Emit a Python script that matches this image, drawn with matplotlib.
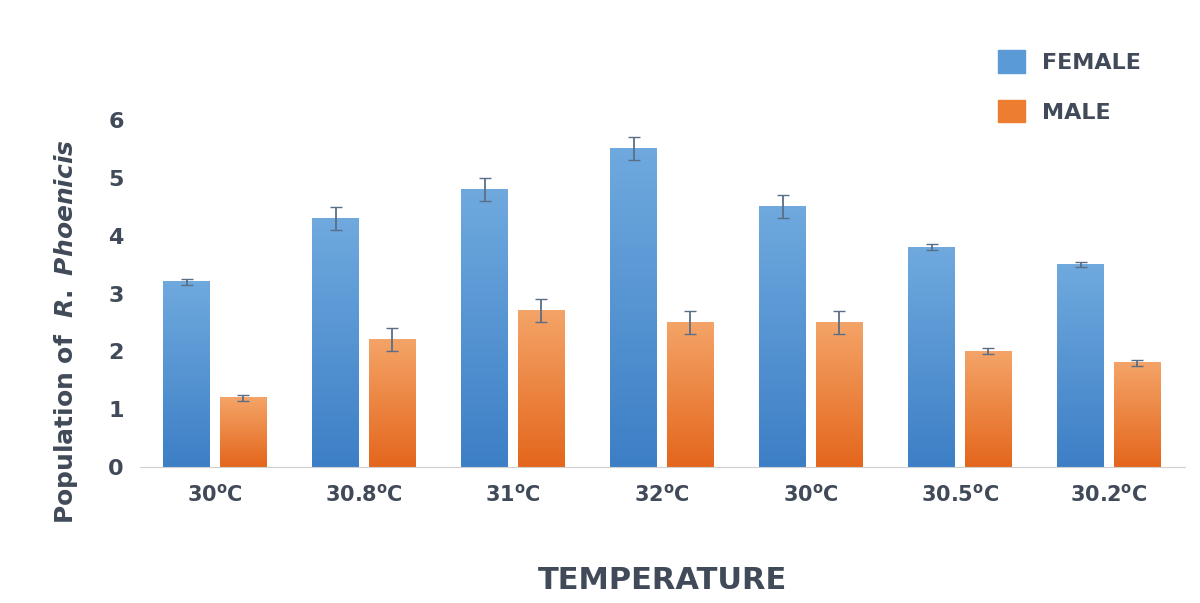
import numpy as np
import matplotlib.pyplot as plt
from matplotlib.colors import LinearSegmentedColormap
from matplotlib.patches import Patch

plt.rcParams['font.family'] = 'DejaVu Sans'
plt.rcParams['mathtext.fontset'] = 'custom'
plt.rcParams['mathtext.rm'] = 'DejaVu Sans:bold'
plt.rcParams['mathtext.it'] = 'DejaVu Sans:italic:bold'

# ===== 데이터 =====
temps = ["30$^{\\mathrm{o}}$C", "30.8$^{\\mathrm{o}}$C", "31$^{\\mathrm{o}}$C", "32$^{\\mathrm{o}}$C",
         "30$^{\\mathrm{o}}$C", "30.5$^{\\mathrm{o}}$C", "30.2$^{\\mathrm{o}}$C"]
female = [3.2, 4.3, 4.8, 5.5, 4.5, 3.8, 3.5]
female_err = [0.05, 0.2, 0.2, 0.2, 0.2, 0.05, 0.05]
male = [1.2, 2.2, 2.7, 2.5, 2.5, 2.0, 1.8]
male_err = [0.05, 0.2, 0.2, 0.2, 0.2, 0.05, 0.05]

txt = "#404a58"
w = 0.315
off = 0.19
x = np.arange(len(temps))

fig = plt.figure(figsize=(12, 6.03), dpi=100)
ax = fig.add_axes([0.117, 0.2255, 0.8705, 0.5755])

cm_f = LinearSegmentedColormap.from_list("f", ["#3d7fc6", "#6fa9de"])
cm_m = LinearSegmentedColormap.from_list("m", ["#e4661c", "#f4a468"])
grad = np.linspace(0, 1, 256).reshape(-1, 1)

def gbar(xc, h, cmap):
    ax.imshow(grad, cmap=cmap, origin="lower", aspect="auto",
              extent=(xc - w/2, xc + w/2, 0, h), zorder=2)

for i in range(len(temps)):
    gbar(x[i] - off, female[i], cm_f)
    gbar(x[i] + off, male[i], cm_m)

ecol = "#5a6e86"
ax.errorbar(x - off, female, yerr=female_err, fmt="none", ecolor=ecol, capsize=4, lw=1.3, zorder=3)
ax.errorbar(x + off, male, yerr=male_err, fmt="none", ecolor=ecol, capsize=4, lw=1.3, zorder=3)

ax.set_xlim(-0.5, 6.51)
ax.set_ylim(0, 6)
ax.set_xticks(x)
ax.set_xticklabels(temps, fontsize=15, fontweight="bold", color=txt)
ax.set_yticks(range(7))
ax.set_yticklabels([str(v) for v in range(7)], fontsize=16, fontweight="bold", color=txt)
ax.tick_params(length=0, pad=12)
for s in ["top", "right", "left"]:
    ax.spines[s].set_visible(False)
ax.spines["bottom"].set_color("#d0d0d0")

ax.set_ylabel("Population of  $\\it{R.\\ Phoenicis}$", fontsize=18, fontweight="bold", color=txt)
ax.yaxis.set_label_coords(-0.058, 0.39)
ax.set_xlabel("TEMPERATURE", fontsize=22, fontweight="bold", color=txt)
ax.xaxis.set_label_coords(0.5, -0.285)

handles = [Patch(color="#5b9bd5", label="FEMALE"), Patch(color="#ed7d31", label="MALE")]
fig.legend(handles=handles, loc="upper left", bbox_to_anchor=(0.815, 0.95), frameon=False,
           prop={"size": 16, "weight": "bold"}, labelcolor=txt, handlelength=1.2, handleheight=1.2,
           labelspacing=1.2)

fig.savefig("out.png", dpi=100)
